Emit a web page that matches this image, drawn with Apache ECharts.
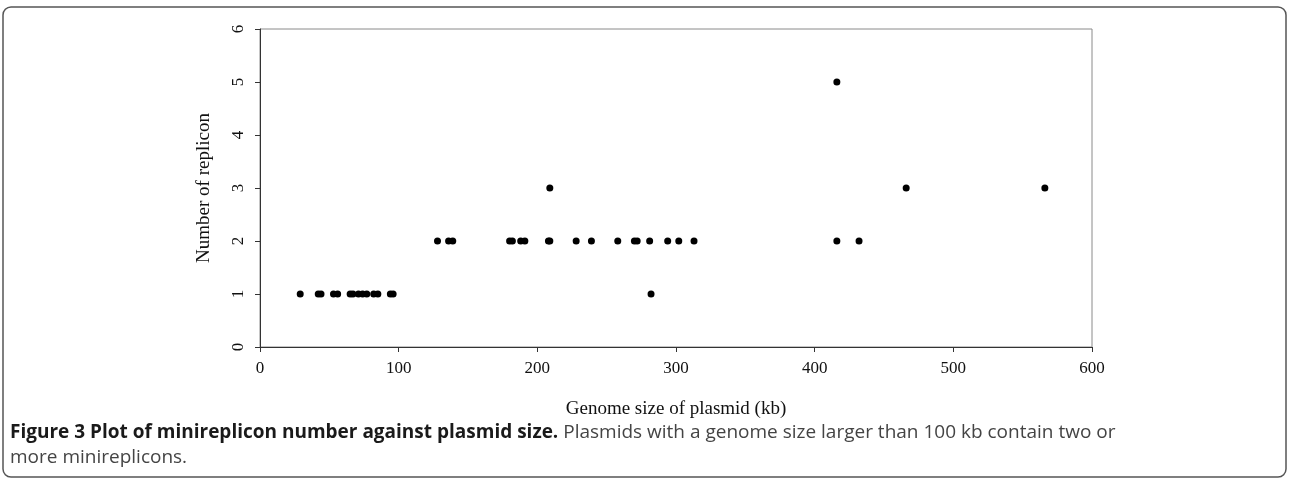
<!DOCTYPE html>
<html>
<head>
<meta charset="utf-8">
<script src="https://cdn.jsdelivr.net/npm/echarts@6/dist/echarts.min.js"></script>
<style>
  html, body { margin: 0; padding: 0; background: #fff; }
  #main { width: 1290px; height: 480px; }
</style>
</head>
<body>
<div id="main"></div>
<script>
// genome size (kb) and number of replicons
var genomeSize = [29, 42, 44, 53, 56, 65, 67, 71, 74, 77, 82, 85, 94, 96,
  128, 136, 139, 180, 182, 188, 191, 208, 209, 209, 228, 239, 258, 270, 272,
  281, 282, 294, 302, 313, 416, 416, 432, 466, 566];
var repliconCount = [1, 1, 1, 1, 1, 1, 1, 1, 1, 1, 1, 1, 1, 1,
  2, 2, 2, 2, 2, 2, 2, 2, 2, 3, 2, 2, 2, 2, 2,
  2, 1, 2, 2, 2, 2, 5, 2, 3, 3];
var xTicks = [0, 100, 200, 300, 400, 500, 600];
var yTicks = [0, 1, 2, 3, 4, 5, 6];

var points = genomeSize.map(function (v, i) { return [v, repliconCount[i]]; });

var myChart = echarts.init(document.getElementById('main'));

var serif = '"Liberation Serif", "Times New Roman", serif';
var sans = '"Open Sans", "Noto Sans", sans-serif';

myChart.setOption({
  backgroundColor: '#fff',
  animation: false,
  grid: {
    left: 260, top: 29, width: 832, height: 318,
    show: true, borderColor: '#8a8a8a', borderWidth: 1, backgroundColor: 'transparent'
  },
  xAxis: {
    type: 'value',
    min: xTicks[0], max: xTicks[xTicks.length - 1], interval: 100,
    name: 'Genome size of plasmid (kb)',
    nameLocation: 'middle', nameGap: 53,
    nameTextStyle: { fontFamily: serif, fontSize: 19, color: '#111' },
    axisLine: { show: true, onZero: false, lineStyle: { color: '#333', width: 1 } },
    axisTick: { show: true, length: 5, lineStyle: { color: '#333' } },
    axisLabel: { fontFamily: serif, fontSize: 17, color: '#111', margin: 13 },
    splitLine: { show: false }
  },
  yAxis: {
    type: 'value',
    min: yTicks[0], max: yTicks[yTicks.length - 1], interval: 1,
    name: 'Number of replicon',
    nameLocation: 'middle', nameGap: 46, nameRotate: 90,
    nameTextStyle: { fontFamily: serif, fontSize: 19, color: '#111' },
    axisLine: { show: true, onZero: false, lineStyle: { color: '#333', width: 1 } },
    axisTick: { show: true, length: 5, lineStyle: { color: '#333' } },
    axisLabel: { fontFamily: serif, fontSize: 17, color: '#111', rotate: 90, margin: 13 },
    splitLine: { show: false }
  },
  series: [{
    type: 'scatter',
    data: points,
    symbol: 'circle',
    symbolSize: 7,
    itemStyle: { color: '#000', opacity: 1 }
  }],
  graphic: [
    {
      type: 'rect',
      shape: { x: 3, y: 7, width: 1283, height: 470, r: 8 },
      style: { fill: 'none', stroke: '#555', lineWidth: 1.5 },
      silent: true
    },
    {
      type: 'text',
      left: 10, top: 423,
      style: {
        text: '{b|Figure 3 Plot of minireplicon number against plasmid size.}{n| Plasmids with a genome size larger than 100 kb contain two or}\n{n|more minireplicons.}',
        rich: {
          b: { fontFamily: sans, fontSize: 19, fontWeight: 'bold', fill: '#1a1a1a', lineHeight: 25 },
          n: { fontFamily: sans, fontSize: 19, fill: '#444', lineHeight: 25 }
        }
      }
    }
  ]
});
</script>
</body>
</html>
